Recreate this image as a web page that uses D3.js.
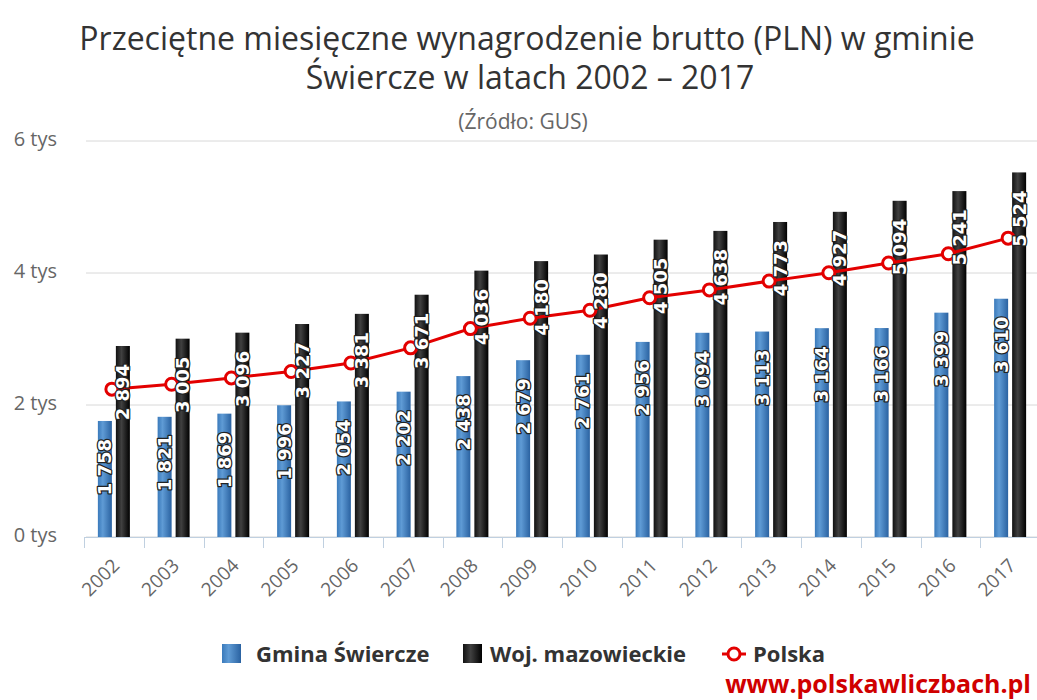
<!DOCTYPE html>
<html>
<head>
<meta charset="utf-8">
<script src="https://cdn.jsdelivr.net/npm/d3@7"></script>
<style>
  body { margin: 0; background: #fff; }
  svg { display: block; }
</style>
</head>
<body>
<script>
const years = ["2002","2003","2004","2005","2006","2007","2008","2009","2010","2011","2012","2013","2014","2015","2016","2017"];
const gmina = [1758,1821,1869,1996,2054,2202,2438,2679,2761,2956,3094,3113,3164,3166,3399,3610];
const woj = [2894,3005,3096,3227,3381,3671,4036,4180,4280,4505,4638,4773,4927,5094,5241,5524];
const polska = [2240,2315,2410,2508,2637,2866,3158,3315,3435,3625,3744,3877,4004,4151,4291,4528];
const yTicks = [0,2000,4000,6000];

const width = 1037, height = 700;
const svg = d3.select("body").append("svg").attr("width", width).attr("height", height);
const defs = svg.append("defs");

// bar gradients (horizontal)
function grad(id, stops) {
  const g = defs.append("linearGradient").attr("id", id)
    .attr("x1","0%").attr("y1","0%").attr("x2","100%").attr("y2","0%");
  g.selectAll("stop").data(stops).enter().append("stop")
    .attr("offset", d => d[0]).attr("stop-color", d => d[1]);
}
grad("blueGrad", [["0%","#3a7abb"],["35%","#5f9bd5"],["100%","#2a62a1"]]);
grad("blackGrad", [["0%","#111"],["40%","#404040"],["100%","#000"]]);

// titles
svg.append("text").attr("x", 527).attr("y", 50).attr("text-anchor","middle")
  .style("font-family","'Open Sans'").style("font-size","32px").style("fill","#333")
  .text("Przeciętne miesięczne wynagrodzenie brutto (PLN) w gminie");
svg.append("text").attr("x", 530).attr("y", 89).attr("text-anchor","middle")
  .style("font-family","'Open Sans'").style("font-size","32px").style("fill","#333")
  .text("Świercze w latach 2002 – 2017");
svg.append("text").attr("x", 523).attr("y", 129).attr("text-anchor","middle")
  .style("font-family","'Open Sans'").style("font-size","21px").style("fill","#666")
  .text("(Źródło: GUS)");

const x = d3.scaleBand().domain(years).range([84, 1040]).paddingInner(0).paddingOuter(0);
const y = d3.scaleLinear().domain([0, 6000]).range([537, 141]);
const barW = 14, gap = 4;

// gridlines + y labels
svg.append("g").selectAll("line").data(yTicks).enter().append("line")
  .attr("x1", 86).attr("x2", 1037)
  .attr("y1", d => y(d)).attr("y2", d => y(d))
  .attr("stroke", "#d8d8d8").attr("stroke-width", 1);
svg.append("g").selectAll("text").data(yTicks).enter().append("text")
  .attr("x", 57).attr("y", d => y(d) - 2).attr("dy","0.35em").attr("text-anchor","end")
  .style("font-family","'Open Sans'").style("font-size","20px").style("fill","#666")
  .text(d => (d/1000) + " tys");

// x axis line and ticks
svg.append("line").attr("x1", 84).attr("x2", 1037).attr("y1", 537.5).attr("y2", 537.5)
  .attr("stroke","#c0d0e0").attr("stroke-width", 1);
svg.append("g").selectAll("line").data(years).enter().append("line")
  .attr("x1", d => Math.round(x(d)) + 0.5).attr("x2", d => Math.round(x(d)) + 0.5)
  .attr("y1", 537).attr("y2", 548)
  .attr("stroke","#c0d0e0").attr("stroke-width", 1);
svg.append("g").selectAll("text").data(years).enter().append("text")
  .attr("transform", d => `translate(${x(d) + x.bandwidth()/2 + 2},${562}) rotate(-45)`)
  .attr("text-anchor","end").attr("dy","0.35em")
  .style("font-family","'Open Sans'").style("font-size","19px").style("fill","#666")
  .text(d => d);

// bars
const cx = (i, k) => x(years[i]) + x.bandwidth()/2 + (k === 0 ? -(gap/2 + barW/2) : (gap/2 + barW/2));
svg.append("g").selectAll("rect").data(gmina).enter().append("rect")
  .attr("x", (d,i) => cx(i,0) - barW/2).attr("width", barW)
  .attr("y", d => y(d)).attr("height", d => y(0) - y(d))
  .attr("fill","url(#blueGrad)");
svg.append("g").selectAll("rect").data(woj).enter().append("rect")
  .attr("x", (d,i) => cx(i,1) - barW/2).attr("width", barW)
  .attr("y", d => y(d)).attr("height", d => y(0) - y(d))
  .attr("fill","url(#blackGrad)");

// Polska line
const px = i => x(years[i]) + x.bandwidth()/2 - 2;
const line = d3.line().x((d,i) => px(i)).y(d => y(d));
svg.append("path").datum(polska).attr("d", line)
  .attr("fill","none").attr("stroke","#e30000").attr("stroke-width", 3);
svg.append("g").selectAll("circle").data(polska).enter().append("circle")
  .attr("cx", (d,i) => px(i)).attr("cy", d => y(d)).attr("r", 6)
  .attr("fill","#fff").attr("stroke","#e30000").attr("stroke-width", 3);

// data labels
const fmt = v => d3.format(",")(v).replace(",", " ");
function labels(data, k) {
  svg.append("g").selectAll("text").data(data).enter().append("text")
    .attr("transform", (d,i) => `translate(${cx(i,k)},${y(d) + 18}) rotate(-90)`)
    .attr("text-anchor","end").attr("dy","0.36em")
    .style("font-family","'DejaVu Sans'").style("font-weight","bold").style("font-size","18px")
    .style("fill","#fff").style("stroke","#222").style("stroke-width","2.5px")
    .style("paint-order","stroke").style("stroke-linejoin","round")
    .text(d => fmt(d));
}
labels(gmina, 0);
labels(woj, 1);

// legend
const leg = svg.append("g").style("font-family","'Open Sans'").style("font-weight","bold")
  .style("font-size","22px").style("fill","#333");
leg.append("rect").attr("x", 222).attr("y", 644).attr("width", 19).attr("height", 19).attr("fill","url(#blueGrad)");
leg.append("text").attr("x", 256).attr("y", 662).text("Gmina Świercze");
leg.append("rect").attr("x", 463).attr("y", 644).attr("width", 19).attr("height", 19).attr("fill","url(#blackGrad)");
leg.append("text").attr("x", 490).attr("y", 662).text("Woj. mazowieckie");
leg.append("line").attr("x1", 722).attr("x2", 746).attr("y1", 654).attr("y2", 654)
  .attr("stroke","#e30000").attr("stroke-width", 3);
leg.append("circle").attr("cx", 734).attr("cy", 654).attr("r", 6)
  .attr("fill","#fff").attr("stroke","#e30000").attr("stroke-width", 3);
leg.append("text").attr("x", 753).attr("y", 662).text("Polska");

svg.append("text").attr("x", 1031).attr("y", 693).attr("text-anchor","end")
  .style("font-family","'Open Sans'").style("font-weight","bold").style("font-size","25px")
  .style("fill","#d00000").text("www.polskawliczbach.pl");
</script>
</body>
</html>
